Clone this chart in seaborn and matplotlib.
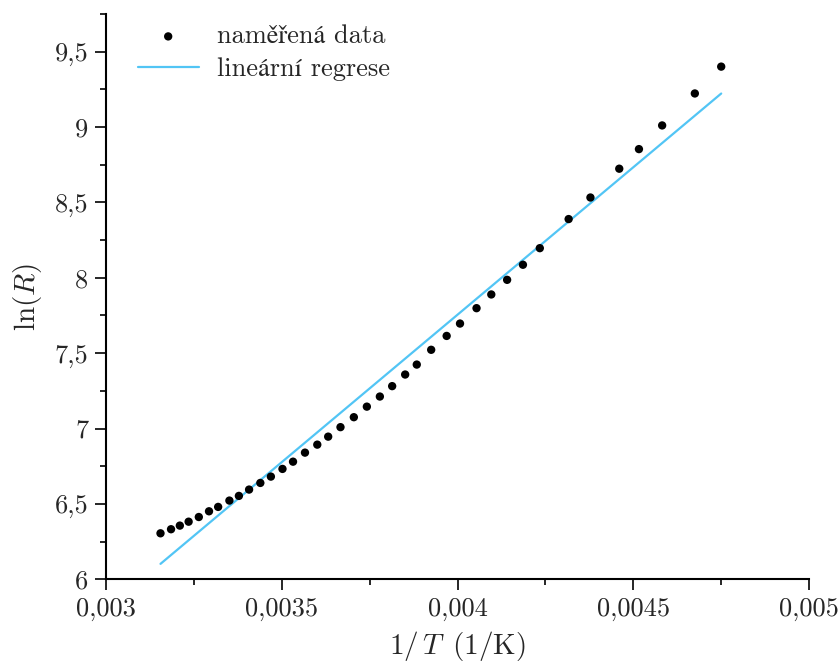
#%%
import numpy as np
import pandas as pd
import seaborn as sns
import matplotlib.pyplot as plt
from matplotlib.ticker import MultipleLocator, FuncFormatter

# %%
# hodnoty: 1/T (1/K) a ln(R)
inv_T = [0.003155, 0.003185, 0.003210, 0.003235, 0.003264, 0.003293, 0.003319,
         0.003351, 0.003378, 0.003407, 0.003439, 0.003469, 0.003502, 0.003532,
         0.003566, 0.003601, 0.003632, 0.003667, 0.003705, 0.003742, 0.003779,
         0.003814, 0.003851, 0.003884, 0.003925, 0.003969, 0.004007, 0.004054,
         0.004096, 0.004141, 0.004186, 0.004234, 0.004316, 0.004378, 0.004460,
         0.004516, 0.004582, 0.004675, 0.004750]
ln_R = [6.305, 6.332, 6.356, 6.382, 6.413, 6.451, 6.480, 6.522, 6.553, 6.595,
        6.639, 6.681, 6.732, 6.780, 6.840, 6.893, 6.946, 7.009, 7.075, 7.145,
        7.212, 7.281, 7.358, 7.424, 7.522, 7.614, 7.696, 7.798, 7.889, 7.986,
        8.086, 8.196, 8.389, 8.532, 8.723, 8.853, 9.010, 9.222, 9.400]

data = pd.DataFrame({'inv_T': inv_T, 'ln_R': ln_R})
line_color = '#52C5F5'

# %%
sns.set_theme(style='ticks')
plt.rcParams['font.family'] = ['cmr10', 'STIXGeneral', 'DejaVu Serif']
plt.rcParams['mathtext.fontset'] = 'cm'
plt.rcParams['axes.formatter.use_mathtext'] = True

fig = plt.figure(figsize=(8.38, 6.66), dpi=100)
ax = fig.add_axes([0.1265, 0.1302, 0.839, 0.849])

sns.scatterplot(data=data, x='inv_T', y='ln_R', ax=ax, color='black', s=36,
                edgecolor='none', label='naměřená data', zorder=3)
sns.regplot(data=data, x='inv_T', y='ln_R', ax=ax, scatter=False, ci=None,
            color=line_color, line_kws={'lw': 1.6}, label='lineární regrese')

ax.set_xlim(0.003, 0.005)
ax.set_ylim(6, 9.75)
ax.xaxis.set_major_locator(MultipleLocator(0.0005))
ax.xaxis.set_minor_locator(MultipleLocator(0.00025))
ax.yaxis.set_major_locator(MultipleLocator(0.5))
ax.yaxis.set_minor_locator(MultipleLocator(0.25))
comma = FuncFormatter(lambda v, p: '{:g}'.format(round(v, 6)).replace('.', ','))
ax.xaxis.set_major_formatter(comma)
ax.yaxis.set_major_formatter(comma)

ax.tick_params(which='major', direction='out', length=7.7, width=1.4, labelsize=19, pad=5)
ax.tick_params(which='minor', direction='out', length=4, width=1.4)
for side in ['left', 'bottom']:
    ax.spines[side].set_linewidth(1.5)
    ax.spines[side].set_color('black')
sns.despine(ax=ax)

ax.set_xlabel(r'$1/\,T\ \,(1/\mathrm{K})$', fontsize=21, labelpad=6)
ax.set_ylabel(r'$\ln(R)$', fontsize=21, labelpad=8)

ax.legend(loc='upper left', bbox_to_anchor=(0.0115, 1.023), frameon=False, fontsize=19,
          handlelength=2.3, handletextpad=0.7, labelspacing=0.35, markerscale=1.0)

fig.savefig('out.png', dpi=100)
